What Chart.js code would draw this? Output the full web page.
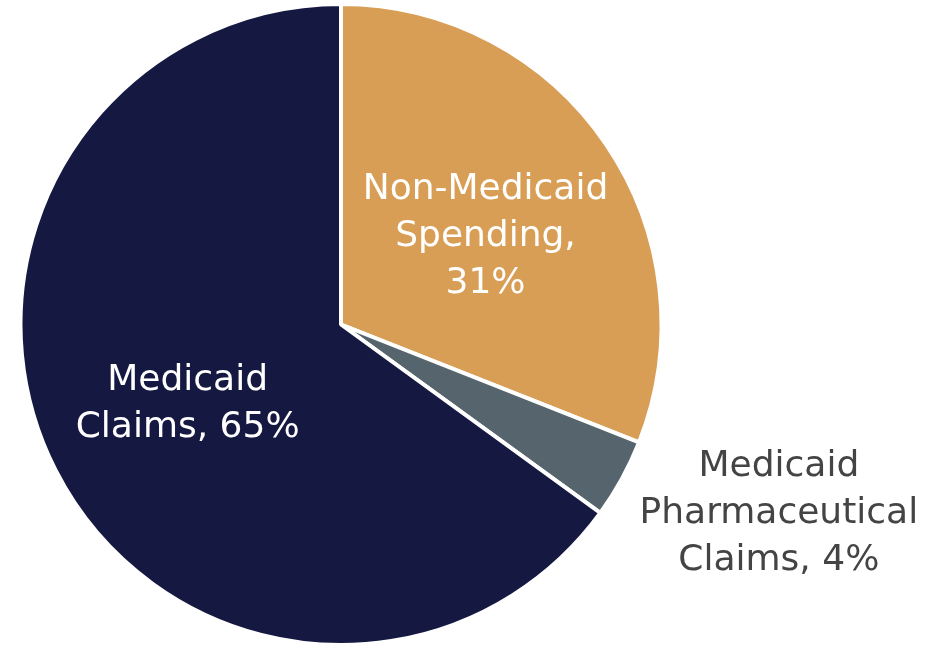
<!DOCTYPE html>
<html>
<head>
<meta charset="utf-8">
<script src="https://cdn.jsdelivr.net/npm/chart.js@4.4.1/dist/chart.umd.min.js"></script>
<style>
  html, body { margin: 0; padding: 0; background: #fff; }
  #wrap { width: 940px; height: 647px; position: relative; }
</style>
</head>
<body>
<div id="wrap"><canvas id="pieChart"></canvas></div>
<script>
const categories = ["Non-Medicaid Spending", "Medicaid Pharmaceutical Claims", "Medicaid Claims"];
const shares     = [31, 4, 65];
const labelLines = [
    ["Non-Medicaid", "Spending,", "31%"],
    ["Medicaid", "Pharmaceutical", "Claims, 4%"],
    ["Medicaid", "Claims, 65%"]
];
const colors = ["#d99e55", "#56646d", "#151841"];

// inside labels sit near the slice centroid, the small slice gets its label outside
const labelPlacement = [
    { inside: true, r: 0.53, dx: 4, dy: 8, color: "#ffffff" },
    { inside: false, dx: 157, dy: 35, color: "#444444" },
    { inside: true, r: 0.53, dx: -2, dy: 3, color: "#ffffff" }
];

const sliceLabels = {
    id: "sliceLabels",
    afterDatasetsDraw(chart) {
        const ctx = chart.ctx;
        const arcs = chart.getDatasetMeta(0).data;
        ctx.save();
        ctx.font = "36px 'DejaVu Sans'";
        ctx.textAlign = "center";
        ctx.textBaseline = "middle";
        arcs.forEach((arc, i) => {
            const p = labelPlacement[i];
            const mid = (arc.startAngle + arc.endAngle) / 2;
            const r = p.inside ? arc.outerRadius * p.r : arc.outerRadius;
            const x = arc.x + Math.cos(mid) * r + p.dx;
            const y = arc.y + Math.sin(mid) * r + p.dy;
            const lines = labelLines[i];
            const lh = 47;
            ctx.fillStyle = p.color;
            lines.forEach((t, k) => {
                ctx.fillText(t, x, y + (k - (lines.length - 1) / 2) * lh);
            });
        });
        ctx.restore();
    }
};

new Chart(document.getElementById("pieChart"), {
    type: "pie",
    data: {
        labels: categories,
        datasets: [{
            data: shares,
            backgroundColor: colors,
            borderColor: "#ffffff",
            borderWidth: 4
        }]
    },
    options: {
        responsive: true, maintainAspectRatio: false, animation: false,
        layout: { padding: { left: 16, right: 274, top: 2, bottom: 0 } },
        plugins: { legend: { display: false }, tooltip: { enabled: false } }
    },
    plugins: [sliceLabels]
});
</script>
</body>
</html>
